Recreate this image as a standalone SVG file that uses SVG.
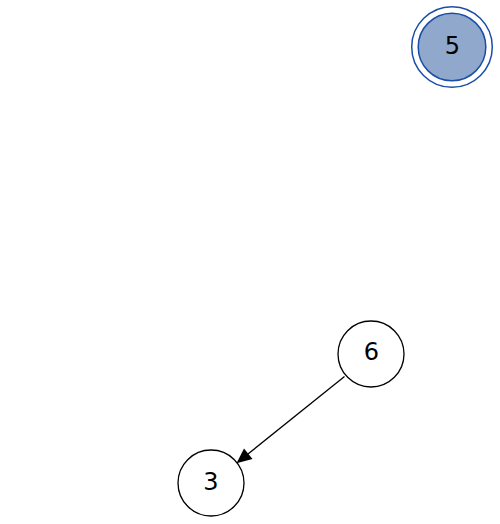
<svg xmlns="http://www.w3.org/2000/svg" width="500" height="524" viewBox="0 0 500 524">
<style>
.n{fill:#fff;stroke:#000;stroke-width:1.3}
.t{font-family:"DejaVu Sans",sans-serif;font-size:24px;text-anchor:middle;fill:#000}
.e{stroke:#000;stroke-width:1.3;fill:none}
</style>
<rect width="500" height="524" fill="#fff"/>
<g id="connectors">
<line class="e" x1="344.5" y1="376.5" x2="248" y2="454"/>
<path d="M236.5,463.3 L244,448.5 L252.5,459 Z" fill="#000"/>
</g>
<g id="node-5">
<circle cx="452" cy="47" r="40.3" fill="#fff" stroke="#1a4ea6" stroke-width="1.5"/>
<circle cx="452" cy="47" r="33.8" fill="#8fa8cb" stroke="#1a4ea6" stroke-width="1.5"/>
<text class="t" x="452.5" y="54">5</text>
</g>
<g id="node-6">
<circle class="n" cx="371" cy="354" r="33"/>
<text class="t" x="371.5" y="359.5">6</text>
</g>
<g id="node-3">
<circle class="n" cx="211" cy="483" r="33"/>
<text class="t" x="211" y="490">3</text>
</g>
</svg>
